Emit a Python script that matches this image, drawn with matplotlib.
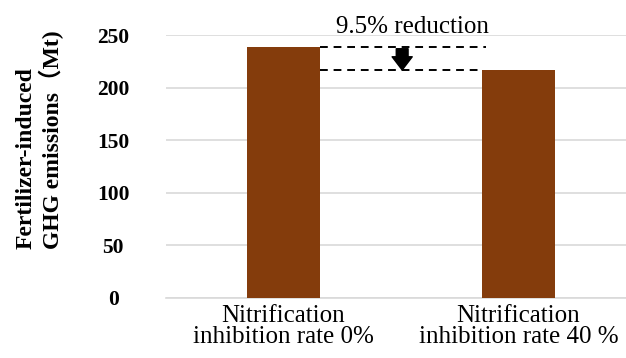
import matplotlib.pyplot as plt

categories = ["Nitrification\ninhibition rate 0%", "Nitrification\ninhibition rate 40 %"]
emissions = [239, 216.3]
yticks = [0, 50, 100, 150, 200, 250]
reduction_label = "9.5% reduction"

plt.rcParams['font.family'] = ['Liberation Serif', 'DejaVu Serif']

fig = plt.figure(figsize=(6.26, 3.58), dpi=100)
ax = fig.add_axes([166 / 626, 0.1684, 470 / 626, 0.7336])

x = range(len(categories))
ax.bar(x, emissions, width=0.31, color='#843C0C', zorder=3)

ax.set_xlim(-0.5, 1.5)
ax.set_ylim(0, 250)
ax.set_yticks(yticks)
ax.set_yticklabels([str(v) for v in yticks], fontsize=15.5, fontweight='bold')
for lbl in ax.get_yticklabels():
    lbl.set_horizontalalignment('center')
ax.set_xticks(list(x))
ax.set_xticklabels(categories, fontsize=18, linespacing=0.95)
ax.tick_params(length=0)
ax.tick_params(axis='x', pad=5)
ax.tick_params(axis='y', pad=38)

ax.grid(axis='y', color='#d9d9d9', linewidth=1.2, zorder=0)
for side in ['top', 'right', 'left']:
    ax.spines[side].set_visible(False)
ax.spines['bottom'].set_color('#d9d9d9')
ax.spines['bottom'].set_linewidth(1.2)

# dashed guides from each bar top and the reduction arrow
ax.hlines(emissions[0], 0.155, 0.86, colors='k', linestyles=(0, (4, 3)), linewidth=1.4, zorder=4)
ax.hlines(emissions[1], 0.155, 0.845, colors='k', linestyles=(0, (4, 3)), linewidth=1.4, zorder=4)
ax.annotate('', xy=(0.505, emissions[1] + 0.5), xytext=(0.505, emissions[0] - 2),
            arrowprops=dict(arrowstyle='simple,head_length=0.95,head_width=1.45,tail_width=0.85',
                            color='k', shrinkA=0, shrinkB=0), zorder=5)
ax.text(0.548, 251.8, reduction_label, ha='center', va='baseline', fontsize=18)

fig.text(0.064, 0.61, "Fertilizer-induced\nGHG emissions（Mt)", rotation=90,
         ha='center', va='center', multialignment='left',
         fontsize=17, fontweight='bold', linespacing=1.12,
         family=['Liberation Serif', 'Noto Sans CJK JP'])

fig.savefig('out.png', dpi=100)
